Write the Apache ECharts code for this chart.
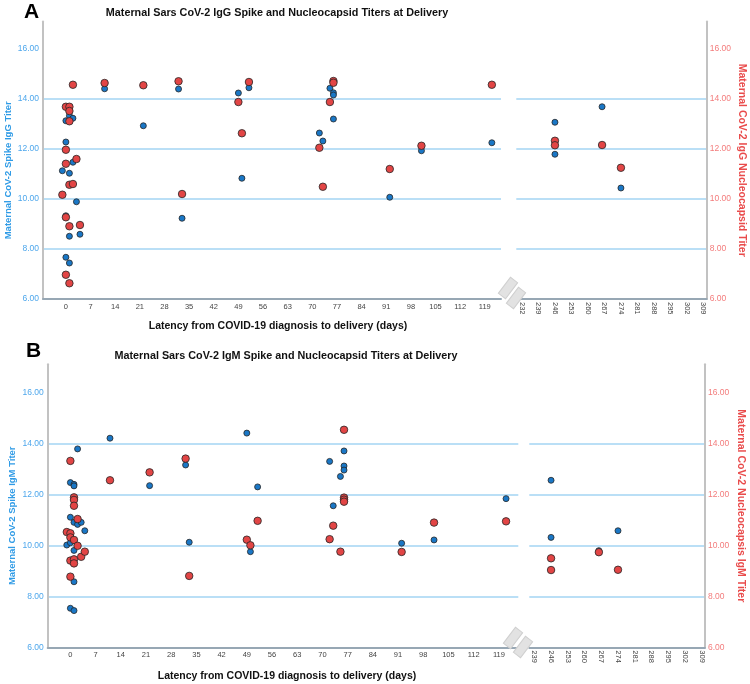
<!DOCTYPE html>
<html>
<head>
<meta charset="utf-8">
<script src="https://cdn.jsdelivr.net/npm/echarts@6/dist/echarts.min.js"></script>
<style>html,body{margin:0;padding:0;background:#fff}#c{width:750px;height:684px}</style>
</head>
<body>
<div id="c"></div>
<script>
// ---------- DATA (day from diagnosis to delivery, titer) ----------
const iggSpike = [[-1,11.13],[0,13.13],[0,12.28],[0,9.33],[0,7.67],[1,13.33],[1,11.03],[1,8.51],[1,7.44],[2,13.23],[2,11.47],[3,9.89],[4,8.59],[11,14.41],[22,12.93],[32,14.40],[33,9.23],[49,14.24],[50,10.83],[52,14.45],[72,12.64],[73,12.32],[75,14.43],[76,14.25],[76,14.16],[76,13.20],[92,10.07],[101,11.93],[121,12.25],[246,13.07],[246,11.79],[266,13.69],[274,10.44]];
const iggNucleo = [[-1,10.17],[0,13.69],[0,11.97],[0,11.41],[0,9.27],[0,6.97],[1,13.69],[1,13.52],[1,13.11],[1,10.57],[1,8.91],[1,6.63],[2,14.57],[2,10.60],[3,11.60],[4,8.96],[11,14.64],[22,14.55],[32,14.71],[33,10.20],[49,13.88],[50,12.63],[52,14.68],[72,12.05],[73,10.49],[75,13.88],[76,14.72],[76,14.65],[92,11.20],[101,12.13],[121,14.57],[246,12.33],[246,12.15],[266,12.16],[274,11.25]];
const igmSpike = [[-1,10.01],[0,12.46],[0,11.10],[0,10.10],[0,7.53],[1,12.39],[1,12.33],[1,10.90],[1,9.80],[1,8.57],[1,7.44],[2,13.78],[2,10.82],[3,10.90],[4,10.57],[11,14.20],[22,12.34],[32,13.15],[33,10.12],[49,14.40],[50,9.75],[52,12.29],[72,13.29],[73,11.55],[75,12.70],[76,13.70],[76,13.11],[76,12.95],[92,10.08],[101,10.21],[121,11.83],[246,12.55],[246,10.31],[266,9.79],[274,10.57]];
const igmNucleo = [[-1,10.52],[0,13.31],[0,10.47],[0,10.31],[0,9.40],[0,8.77],[1,11.88],[1,11.78],[1,11.55],[1,10.21],[1,9.45],[1,9.29],[2,11.03],[2,9.98],[3,9.55],[4,9.75],[11,12.55],[22,12.86],[32,13.40],[33,8.80],[49,10.22],[50,10.00],[52,10.96],[72,10.24],[73,10.77],[75,9.75],[76,14.53],[76,11.87],[76,11.79],[76,11.71],[92,9.74],[101,10.89],[121,10.94],[246,9.49],[246,9.03],[266,9.73],[274,9.04]];

const leftXTicks = [0,7,14,21,28,35,42,49,56,63,70,77,84,91,98,105,112,119];
const rightXTicksA = [232,239,246,253,260,267,274,281,288,295,302,309];
const rightXTicksB = [239,246,253,260,267,274,281,288,295,302,309];
const yTicks = [6,8,10,12,14,16];

const titleA = 'Maternal Sars CoV-2 IgG Spike and Nucleocapsid Titers at Delivery';
const titleB = 'Maternal Sars CoV-2 IgM Spike and Nucleocapsid Titers at Delivery';
const xName = 'Latency from COVID-19 diagnosis to delivery (days)';
const yLeftA = 'Maternal CoV-2 Spike IgG Titer';
const yRightA = 'Maternal CoV-2 IgG Nucleocapsid Titer';
const yLeftB = 'Maternal CoV-2 Spike IgM Titer';
const yRightB = 'Maternal CoV-2 Nucleocapsis IgM Titer';

// ---------- LAYOUT ----------
const FONT = '"Liberation Sans", Arial, sans-serif';
const panels = [
  {spike: iggSpike, nuc: iggNucleo, yl: yLeftA, yr: yRightA, rt: rightXTicksA,
   bottom: 299, unit: 25, lx: 43, lw: 458, lmin: -6.5, lmax: 123.6,
   rx: 516.3, rw: 190.4, rmin: 229.6, rmax: 310.4, xGap: 22, xPad: 12},
  {spike: igmSpike, nuc: igmNucleo, yl: yLeftB, yr: yRightB, rt: rightXTicksB,
   bottom: 647.3, unit: 25.5, lx: 47.7, lw: 470.6, lmin: -6.3, lmax: 124.4,
   rx: 529.3, rw: 175.7, rmin: 236.9, rmax: 310.4, xGap: 23, xPad: 8}
];
const YMAX = 17.1;
const grids = [], xAxes = [], yAxes = [], series = [];

const split = (arr, left) => arr.filter(d => left ? d[0] < 200 : d[0] >= 200);

panels.forEach((p, pi) => {
  const h = (YMAX - 6) * p.unit;
  const top = p.bottom - h;
  [0, 1].forEach(side => {
    const idx = grids.length;
    const isLeft = side === 0;
    grids.push({left: isLeft ? p.lx : p.rx, top: top, width: isLeft ? p.lw : p.rw, height: h,
                containLabel: false, outerBoundsMode: 'none'});
    xAxes.push({
      gridIndex: idx, type: 'value',
      min: isLeft ? p.lmin : p.rmin, max: isLeft ? p.lmax : p.rmax,
      axisLine: {show: true, onZero: false, lineStyle: {color: '#97a7b4', width: 2}},
      axisTick: {show: false, customValues: isLeft ? leftXTicks : p.rt},
      axisLabel: {customValues: isLeft ? leftXTicks : p.rt, fontSize: 7.5, color: '#444',
                  fontFamily: FONT, margin: isLeft ? 4 : 3, rotate: isLeft ? 0 : -90},
      splitLine: {show: false},
      name: isLeft ? xName : '', nameLocation: 'middle', nameGap: p.xGap,
      nameTextStyle: {fontWeight: 'bold', fontSize: 10.5, color: '#111', fontFamily: FONT,
                      padding: [0, 0, 0, p.xPad]}
    });
    yAxes.push({
      gridIndex: idx, type: 'value', min: 6, max: YMAX,
      position: isLeft ? 'left' : 'right',
      axisLine: {show: true, onZero: false, lineStyle: {color: '#c2c2c2', width: 2}},
      axisTick: {show: false, customValues: yTicks},
      axisLabel: {customValues: yTicks, formatter: v => v.toFixed(2), fontSize: 8.5, fontFamily: FONT,
                  color: isLeft ? '#4ea7ec' : '#f37c7c', margin: isLeft ? 4 : 3},
      splitLine: {show: true, showMinLine: false, showMaxLine: false,
                  lineStyle: {color: '#a3d4f3', width: 1.6}},
      name: isLeft ? p.yl : p.yr, nameLocation: 'middle',
      nameRotate: isLeft ? 90 : -90, nameGap: isLeft ? 30 : 30,
      nameMoveOverlap: isLeft ? false : true,
      nameTextStyle: isLeft
        ? {color: '#2f9be6', fontWeight: 'bold', fontSize: 9.5, fontFamily: FONT, padding: [0, 20, 0, 0]}
        : {color: '#e94b4b', fontWeight: 'bold', fontSize: 10.5, fontFamily: FONT}
    });
    series.push({
      type: 'scatter', xAxisIndex: idx, yAxisIndex: idx, data: split(p.spike, isLeft),
      symbolSize: 6, z: 3,
      itemStyle: {color: '#1a77c6', borderColor: '#262626', borderWidth: 0.8, opacity: 1}
    });
    series.push({
      type: 'scatter', xAxisIndex: idx, yAxisIndex: idx, data: split(p.nuc, isLeft),
      symbolSize: 7.5, z: 4,
      itemStyle: {color: '#e24545', borderColor: '#262626', borderWidth: 0.8, opacity: 1}
    });
  });
});

// axis-break marks
const breakMark = (cx, cy) => ({
  type: 'rect', x: cx, y: cy, rotation: -0.65, z: 10,
  shape: {x: -4.5, y: -10, width: 9, height: 20},
  style: {fill: '#e2e2e2', stroke: '#cfcfcf', lineWidth: 1}
});

const option = {
  animation: false,
  backgroundColor: '#fff',
  title: [
    {text: 'A', left: 24, top: 2, padding: 0, textStyle: {fontSize: 21, fontWeight: 'bold', color: '#000', fontFamily: FONT}},
    {text: titleA, left: 277, top: 8, padding: 0, textAlign: 'center', textStyle: {fontSize: 10.8, fontWeight: 'bold', color: '#111', fontFamily: FONT}},
    {text: 'B', left: 26, top: 341, padding: 0, textStyle: {fontSize: 21, fontWeight: 'bold', color: '#000', fontFamily: FONT}},
    {text: titleB, left: 286, top: 351, padding: 0, textAlign: 'center', textStyle: {fontSize: 10.8, fontWeight: 'bold', color: '#111', fontFamily: FONT}}
  ],
  grid: grids, xAxis: xAxes, yAxis: yAxes, series: series,
  graphic: [breakMark(508, 288), breakMark(516, 298), breakMark(513, 638), breakMark(523, 647)]
};
const chart = echarts.init(document.getElementById('c'), null, {renderer: 'canvas'});
chart.setOption(option);
</script>
</body>
</html>
